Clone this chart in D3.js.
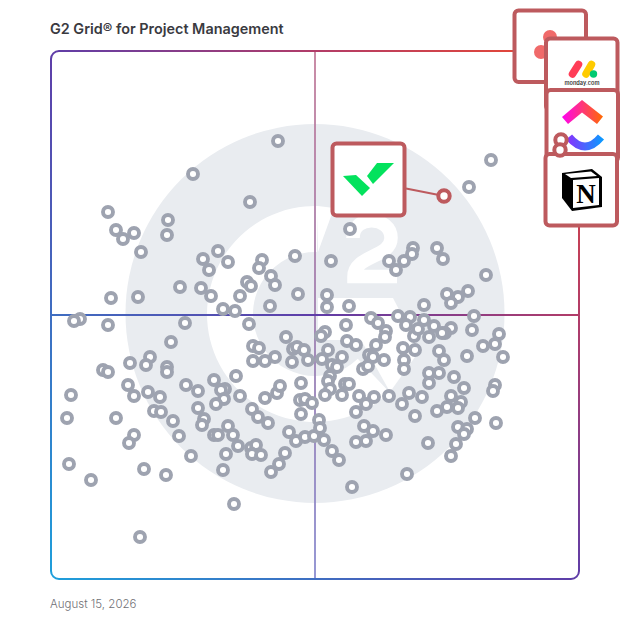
<!DOCTYPE html>
<html><head><meta charset="utf-8">
<script src="https://cdnjs.cloudflare.com/ajax/libs/d3/7.8.5/d3.min.js"></script>
<style>html,body{margin:0;padding:0;background:#fff}svg{display:block}</style>
</head><body><div id="c"></div>
<script>
const title = "G2 Grid® for Project Management";
const dateLabel = "August 15, 2026";
// [market presence, satisfaction] on the grid's own 0-528 unit scale
const productsUpperLeft = [[227,438],[142,405],[199,377],[57,367],[117,359],[65,349],[83,346],[72,340],[116,344],[90,327],[167,328],[152,320],[177,317],[211,319],[244,323],[208,311],[158,309],[220,303],[224,294],[196,297],[200,293],[129,292],[150,291],[160,283],[189,283],[247,285],[60,281],[87,282],[219,273],[172,270],[184,268]];
const productsLowerLeft = [[29,260],[23,258],[57,254],[134,256],[198,255],[120,237],[235,242],[202,233],[208,231],[52,209],[57,207],[79,216],[99,222],[95,214],[116,212],[116,207],[77,194],[83,183],[20,184],[97,187],[109,182],[135,194],[147,188],[163,199],[185,203],[174,190],[170,189],[173,180],[165,175],[189,183],[147,171],[103,168],[110,167],[16,161],[65,161],[122,158],[153,160],[151,154],[128,143],[83,144],[78,136],[163,144],[167,144],[177,153],[182,144],[187,133],[175,125],[140,123],[201,170],[207,162],[217,156],[214,181],[226,186],[229,193],[250,196],[249,179],[254,180],[261,176],[250,165],[238,147],[245,138],[254,142],[263,143],[234,126],[228,115],[220,107],[200,131],[205,134],[201,125],[210,124],[172,109],[18,115],[40,99],[93,110],[115,104],[183,75],[89,42],[202,218],[214,218],[224,222],[241,217],[257,219],[242,230],[246,232],[253,229]];
const productsUpperRight = [[440,419],[418,392],[299,350],[280,318],[338,318],[353,318],[362,331],[361,325],[386,331],[392,320],[345,309],[435,304],[276,284],[276,272],[298,273],[396,285],[417,288],[407,282],[400,276],[373,274],[423,263],[347,263],[359,262],[320,261]];
const productsLowerRight = [[271,220],[268,159],[269,151],[327,256],[355,254],[373,259],[383,253],[295,254],[274,247],[270,243],[421,249],[400,251],[394,246],[391,246],[363,243],[367,250],[378,242],[335,248],[334,242],[448,245],[444,235],[432,233],[452,222],[296,238],[305,234],[325,234],[277,229],[291,222],[318,224],[322,222],[333,219],[352,231],[364,229],[388,228],[393,219],[353,219],[353,210],[416,223],[281,214],[286,212],[279,203],[312,210],[317,213],[378,206],[388,206],[403,202],[378,196],[413,191],[444,194],[442,188],[277,198],[294,195],[298,195],[279,190],[274,184],[291,184],[308,183],[323,182],[338,183],[358,186],[371,182],[351,175],[315,175],[305,167],[400,183],[410,177],[396,172],[407,171],[386,168],[424,161],[364,163],[445,156],[313,153],[322,148],[335,144],[305,137],[315,138],[377,136],[407,152],[416,150],[413,145],[405,135],[400,123],[356,105],[301,92],[281,128],[288,119],[273,139]];
const highlightNames = ["Wrike","ClickUp","Notion"];
const highlightValues = [[393,383],[510,439],[509,429]];

const W = 628, H = 628;
const svg = d3.select("#c").append("svg").attr("width",W).attr("height",H);
const x = d3.scaleLinear().domain([0,528]).range([51,579]);
const y = d3.scaleLinear().domain([0,528]).range([579,51]);
const ff = "Inter, 'Noto Sans', sans-serif";

const defs = svg.append("defs");
const grad = (id,x1,y1,x2,y2,stops)=>{
  const g = defs.append("linearGradient").attr("id",id).attr("gradientUnits","userSpaceOnUse")
    .attr("x1",x1).attr("y1",y1).attr("x2",x2).attr("y2",y2);
  stops.forEach(s=>g.append("stop").attr("offset",s[0]).attr("stop-color",s[1]));
};
grad("frame",51,579,579,51,[[0,"#1e9fdb"],[0.5,"#5f3da8"],[0.75,"#b23c68"],[1,"#f04a2c"]]);
grad("mid",315,51,315,579,[[0,"#c47f9c"],[0.5,"#a07fb0"],[1,"#8a8ccf"]]);
grad("cuTop",562,110,603,110,[[0,"#ff02f0"],[1,"#ff6b00"]]);
grad("cuBot",567,140,603,140,[[0,"#8930fd"],[1,"#0a9bff"]]);

// G2 watermark
const cx = 315, cy = 314, logo = svg.append("g");
const wm = "#e9ecf0";
logo.append("circle").attr("cx",cx).attr("cy",cy-0.5).attr("r",189.5).attr("fill",wm);
logo.append("path").attr("transform",`translate(${cx},${cy})`).attr("fill","#fff")
  .attr("d",d3.arc().innerRadius(62).outerRadius(108).startAngle(2.38).endAngle(2*Math.PI+0.03)());
logo.append("path").attr("fill","#fff").attr("d","M318,206 L334,208 L318,252 Z");
logo.append("path").attr("fill","#fff").attr("d","M318,298 L393,298 L420,350 L390,392 L361,340 L318,340 Z");
logo.append("path").attr("fill","none").attr("stroke","#fff").attr("stroke-width",13.5)
  .attr("d","M353,238 C353,214 391,216 391,238 C391,258 354,255 354,276.5 L397,276.5");

// Grid frame and quadrant lines
const g = svg.append("g");
g.append("line").attr("x1",x(264)).attr("x2",x(264)).attr("y1",y(528)).attr("y2",y(0))
  .attr("stroke","url(#mid)").attr("stroke-width",1.8);
g.append("line").attr("x1",x(0)).attr("x2",x(528)).attr("y1",y(264)).attr("y2",y(264))
  .attr("stroke","url(#frame)").attr("stroke-width",2);
g.append("rect").attr("x",x(0)).attr("y",y(528)).attr("width",x(528)-x(0)).attr("height",y(0)-y(528))
  .attr("rx",8).attr("fill","none").attr("stroke","url(#frame)").attr("stroke-width",2);

// Product points
const all = [].concat(productsUpperLeft,productsLowerLeft,productsUpperRight,productsLowerRight);

// Leader boxes
const boxCol = "#bd5a5e";
const box = (bx,by,w,h)=>svg.append("rect").attr("x",bx).attr("y",by).attr("width",w).attr("height",h)
  .attr("rx",4).attr("fill","#fff").attr("stroke",boxCol).attr("stroke-width",4);

// Asana
box(514.5,10.5,71.5,71.5);
[[550,37],[541,52],[559,52]].forEach(c=>svg.append("circle").attr("cx",c[0]).attr("cy",c[1]).attr("r",7).attr("fill","#f06a6a"));
// monday
box(546,38.5,71.5,71.5);
svg.append("line").attr("x1",572.5).attr("y1",74).attr("x2",578.5).attr("y2",64.5).attr("stroke","#ff3d57").attr("stroke-width",7.5).attr("stroke-linecap","round");
svg.append("line").attr("x1",586).attr("y1",74).attr("x2",591.5).attr("y2",64.5).attr("stroke","#ffcb00").attr("stroke-width",7.5).attr("stroke-linecap","round");
svg.append("circle").attr("cx",593.5).attr("cy",74).attr("r",3.7).attr("fill","#00ca72");
svg.append("text").attr("x",582).attr("y",84.5).attr("text-anchor","middle").attr("font-family",ff).attr("font-weight",600).attr("font-size",5.6).attr("fill","#333").text("monday.com");
// ClickUp
box(546.5,90,71.5,71.5);
svg.append("path").attr("fill","url(#cuTop)").attr("d","M562,117 L582,100 L603,116.5 L597,124 L582,112.5 L568,124 Z");
svg.append("path").attr("fill","none").attr("stroke","url(#cuBot)").attr("stroke-width",8).attr("d","M569,137 Q585,156 601,137");
// Notion
box(545.5,154,71.5,71.5);
svg.append("path").attr("fill","#000").attr("d","M562,173 L592,169 L602,177 L602,207 L572,211 L562,198 Z");
svg.append("path").attr("fill","#fff").attr("d","M565,174 L591,171.5 L597,176 L571,178 Z");
svg.append("path").attr("fill","#fff").attr("d","M573,180 L599,178 L599,205 L573,208 Z");
svg.append("text").attr("x",586).attr("y",203).attr("text-anchor","middle").attr("font-family","'Liberation Serif',serif").attr("font-weight",700).attr("font-size",27).attr("fill","#000").text("N");
// Wrike
box(332.5,143.5,72,72);
svg.append("path").attr("fill","#03e25d").attr("d","M343,176 L356,175 L370,188 L362,196 Z");
svg.append("path").attr("fill","#03e25d").attr("d","M377,163 L394,163 L373,184 L367,176 Z");
svg.append("line").attr("x1",406).attr("y1",188.5).attr("x2",x(highlightValues[0][0])).attr("y2",y(highlightValues[0][1])).attr("stroke",boxCol).attr("stroke-width",2);

svg.append("g").selectAll("circle").data(all).join("circle")
  .attr("cx",d=>x(d[0])).attr("cy",d=>y(d[1])).attr("r",5)
  .attr("fill","#fff").attr("stroke","#9ea3b0").attr("stroke-width",3.9);
svg.append("g").selectAll("circle").data(highlightValues).join("circle")
  .attr("cx",d=>x(d[0])).attr("cy",d=>y(d[1])).attr("r",5.7)
  .attr("fill","#fff").attr("stroke",boxCol).attr("stroke-width",4);

svg.append("text").attr("x",50).attr("y",34).attr("font-family",ff).attr("font-weight",600).attr("font-size",14.4).attr("fill","#3a3a3f").text(title);
svg.append("text").attr("x",50).attr("y",608).attr("font-family",ff).attr("font-weight",300).attr("font-size",11.5).attr("fill","#707075").text(dateLabel);
</script></body></html>
